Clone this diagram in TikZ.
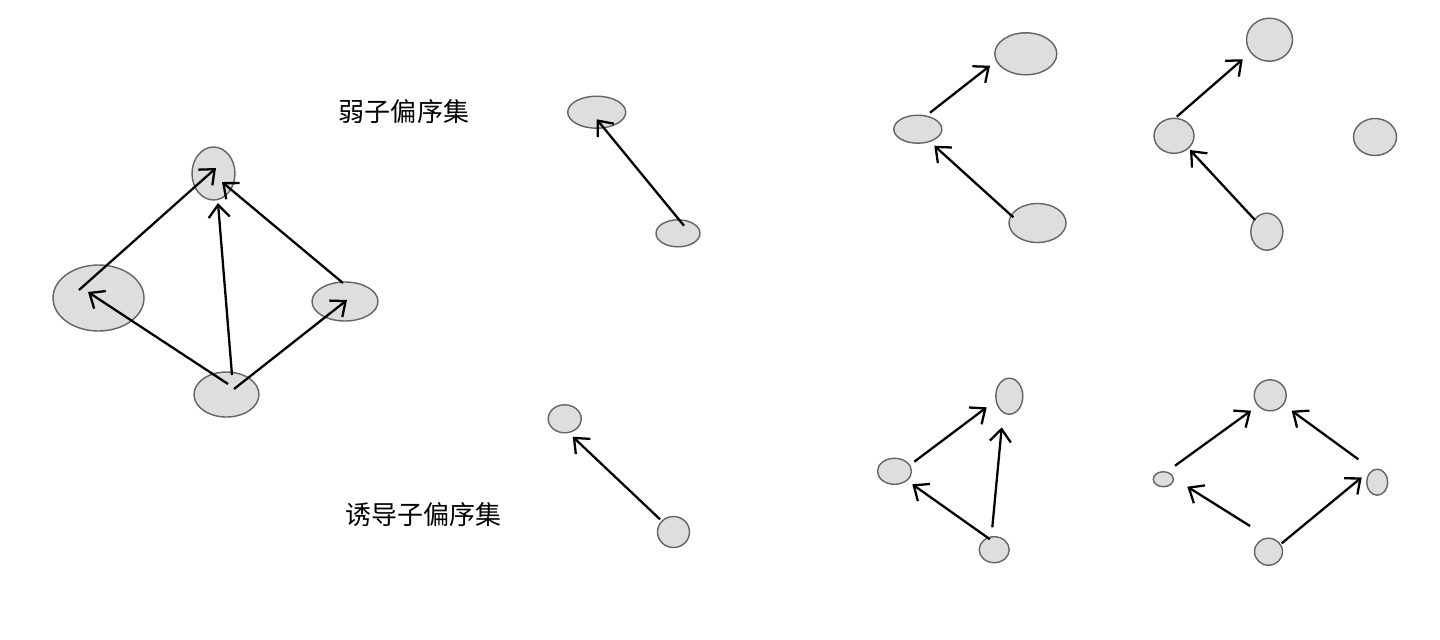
\documentclass[tikz,border=0pt]{standalone}
\usepackage{fontspec}
\usepackage{tikz}
\usetikzlibrary{shapes.geometric,arrows.meta}
\newfontfamily\cjk{Noto Sans CJK SC}
\definecolor{nodefill}{RGB}{222,222,222}
\definecolor{nodeline}{RGB}{100,100,100}

\tikzset{
  elem/.style={ellipse, draw=nodeline, fill=nodefill, line width=0.4pt, inner sep=0pt},
  arr/.style={-{Straight Barb[length=1.25mm,width=2.1mm]}, line width=0.65pt},
  title/.style={font=\cjk\fontsize{7.4pt}{9pt}\selectfont}
}

\begin{document}
\begin{tikzpicture}[x=0.01cm, y=-0.01cm]
   \useasboundingbox (0,0) rectangle (1440,639);

   % elements: name/x/y/width/height
   \foreach \n/\x/\y/\w/\h in {aT/213.5/173.5/43/53, aL/98.5/298/91/66, aR/345/301.5/66/39, aB/226.5/394.5/65/45,
       bT/596.7/112.2/58/32, bB/678/233.3/44/27,
       cT/1025.8/53.8/62/42, cM/917.8/129.2/48/28, cB/1037.5/223/57/39,
       dT/1269.5/39.7/46/43, dM/1174/135.8/40/35, dB/1266.8/231.7/32/37, dR/1375/137/43/37,
       eT/564.7/418.8/33/28, eB/673.5/532/32/31,
       fT/1009.3/396.2/27/36, fM/894.5/471.3/34/26, fB/994.2/549.7/30/26,
       gT/1270.2/395.3/32/31, gL/1163.3/479.2/20/15, gR/1377.2/482.2/21/26, gB/1268.5/551.7/28/27}
     \node [elem, minimum width=\w*0.01cm, minimum height=\h*0.01cm]
        (\n) at (\x,\y) {};

   % order relations: from/dx/dy/to/dx/dy
   \foreach \s/\sx/\sy/\t/\tx/\ty in {aL/-19.5/-8/aT/2.5/-5.5, aB/1.5/-10.5/aL/-10.5/-6,
       aB/5.5/-19.5/aT/4.5/29.5, aB/7.5/-5.5/aR/2/-1.5, aR/-2/-18.5/aT/8.5/8.5,
       bB/6/-7.6/bT/0/7.1,
       cM/12.2/-16.5/cT/-35.8/11.9, cB/-24.2/-5.7/cM/16.5/16.5,
       dM/2.7/-19.1/dT/-26.8/19.6, dB/-11.8/-11.7/dM/16/14.2,
       eB/-13.5/-12.7/eT/8/17.9,
       fM/19.8/-9.6/fT/-22.6/11.1, fB/-4.2/-10.4/fM/17.8/13, fB/-1.9/-22.4/fT/-7.6/31.1,
       gL/11.7/-13.5/gT/-19.2/15.4, gB/-18.5/-25.7/gL/24/7.5,
       gB/13.2/-8.4/gR/-15.5/-4.9, gR/-18.9/-22.9/gT/21.5/15.4}
     \draw [arr] ([shift={(\sx,\sy)}]\s.center) -- ([shift={(\tx,\ty)}]\t.center);

   \node [title] (weak) at (404,112) {弱子偏序集};
   \node [title] (induced) at (423.5,515) {诱导子偏序集};
\end{tikzpicture}
\end{document}
